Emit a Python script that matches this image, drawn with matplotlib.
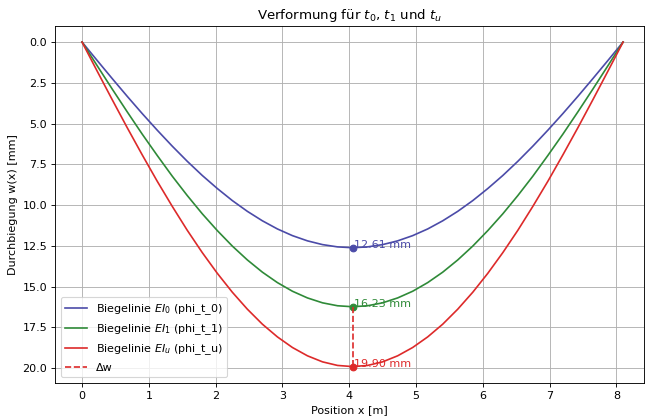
import matplotlib
matplotlib.use("Agg")
import matplotlib.pyplot as plt

# Positions along the beam [m]
x_pos = [0.0, 0.225, 0.45, 0.675, 0.9, 1.125, 1.35, 1.575, 1.8, 2.025,
         2.25, 2.475, 2.7, 2.925, 3.15, 3.375, 3.6, 3.825, 4.05,
         4.275, 4.5, 4.725, 4.95, 5.175, 5.4, 5.625, 5.85, 6.075,
         6.3, 6.525, 6.75, 6.975, 7.2, 7.425, 7.65, 7.875, 8.1]

# Deflections [mm]
w_t0 = [0.0, 1.12, 2.23, 3.32, 4.38, 5.40, 6.38, 7.31, 8.18, 8.98,
        9.72, 10.38, 10.96, 11.46, 11.87, 12.19, 12.42, 12.56, 12.61,
        12.56, 12.42, 12.19, 11.87, 11.46, 10.96, 10.38, 9.72, 8.98,
        8.18, 7.31, 6.38, 5.40, 4.38, 3.32, 2.23, 1.12, 0.0]
w_t1 = [0.0, 1.44, 2.87, 4.27, 5.64, 6.95, 8.22, 9.41, 10.53, 11.56,
        12.51, 13.36, 14.11, 14.75, 15.28, 15.69, 15.99, 16.17, 16.23,
        16.17, 15.99, 15.69, 15.28, 14.75, 14.11, 13.36, 12.51, 11.56,
        10.53, 9.41, 8.22, 6.95, 5.64, 4.27, 2.87, 1.44, 0.0]
w_tu = [0.0, 1.77, 3.52, 5.24, 6.91, 8.53, 10.07, 11.54, 12.91, 14.18,
        15.34, 16.38, 17.30, 18.08, 18.73, 19.24, 19.61, 19.83, 19.90,
        19.83, 19.61, 19.24, 18.73, 18.08, 17.30, 16.38, 15.34, 14.18,
        12.91, 11.54, 10.07, 8.53, 6.91, 5.24, 3.52, 1.77, 0.0]

labels = ["Biegelinie $EI_0$ (phi_t_0)",
          "Biegelinie $EI_1$ (phi_t_1)",
          "Biegelinie $EI_u$ (phi_t_u)"]
colors = ["#4b4ba8", "#2f8a38", "#dd2a2a"]

fig = plt.figure(figsize=(647 / 80, 417 / 80), dpi=80)
ax = fig.add_axes([0.085, 0.082, 0.910, 0.856])

series = [w_t0, w_t1, w_tu]
for w, lab, c in zip(series, labels, colors):
    ax.plot(x_pos, w, color=c, label=lab)
    i = w.index(max(w))
    ax.plot([x_pos[i]], [w[i]], "o", color=c)
    ax.text(x_pos[i] + 0.02, w[i], f"{w[i]:.2f} mm", color=c, fontsize=10)

i1 = w_t1.index(max(w_t1))
iu = w_tu.index(max(w_tu))
ax.plot([x_pos[i1], x_pos[iu]], [w_t1[i1], w_tu[iu]], "--", color="#dd2a2a",
        label="Δw")

ax.set_xlim(-0.405, 8.41)
ax.invert_yaxis()
ax.set_title("Verformung für $t_0$, $t_1$ und $t_u$")
ax.set_xlabel("Position x [m]")
ax.set_ylabel("Durchbiegung w(x) [mm]")
ax.grid(True)
ax.legend(loc="lower left")

fig.savefig("out.png", dpi=80)
